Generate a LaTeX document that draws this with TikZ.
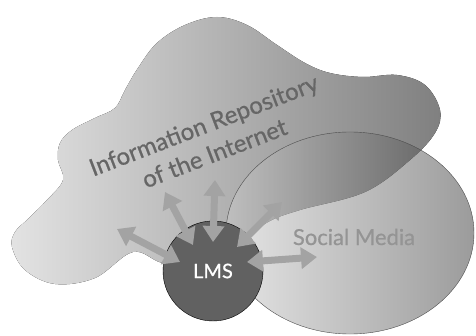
\documentclass[tikz,border=0pt]{standalone}
\usepackage{fontspec}
\setmainfont{Lato}
\newfontfamily\labelfont[FakeBold=0.7]{Lato}
\usetikzlibrary{arrows.meta}

\begin{document}
\begin{tikzpicture}
      [x=1pt, y=-1pt,
       linkarrow/.style={line width=7pt, draw=black!36,
         {Triangle[width=21pt,length=16pt]}-{Triangle[width=21pt,length=16pt]}}]
      \useasboundingbox (0,0) rectangle (476,336);

      \fill [left color=black!11, right color=black!50]
        plot [smooth cycle, tension=.6] coordinates {
          (12,247) (15,232) (28,219) (47,200) (63,180) (58,160) (60,143)
          (72,130) (95,118) (115,108) (125,90) (138,68) (157,43) (185,25)
          (217,17) (247,25) (277,45) (305,63) (330,73) (363,77) (397,75)
          (425,85) (440,110) (435,133) (410,160) (365,192) (300,210)
          (268,222) (240,243) (200,262) (163,263) (133,252) (95,278)
          (55,284) (25,270)};

      \draw [black!70, left color=black!20, right color=black!78, fill opacity=.5]
        (350,233) ellipse [x radius=124, y radius=101];

      \node (info) [rotate=21, align=center, text=black!60,
        font=\labelfont\fontsize{24}{30}\selectfont] at (209,139)
        {Information Repository\\of the Internet};
      \node (media) [text=black!42, font=\labelfont\fontsize{22}{26}\selectfont]
        at (354,237) {Social Media};
      \node (lms) [circle, minimum size=100pt, inner sep=0pt, fill=black!62,
        draw=black, thin, text=white, font=\labelfont\fontsize{20}{24}\selectfont]
        at (213,271) {LMS};

      \coordinate (i1) at (180,262); \coordinate (o1) at (117,229);
      \coordinate (i2) at (193,245); \coordinate (o2) at (165,192);
      \coordinate (i3) at (213,242); \coordinate (o3) at (215,180);
      \coordinate (i4) at (237,247); \coordinate (o4) at (282,202);
      \coordinate (i5) at (247,262); \coordinate (o5) at (317,257);

      \foreach \from/\to in {i1/o1, i2/o2, i3/o3, i4/o4, i5/o5}
      \draw [linkarrow] (\from) -- (\to);
    \end{tikzpicture}
\end{document}
